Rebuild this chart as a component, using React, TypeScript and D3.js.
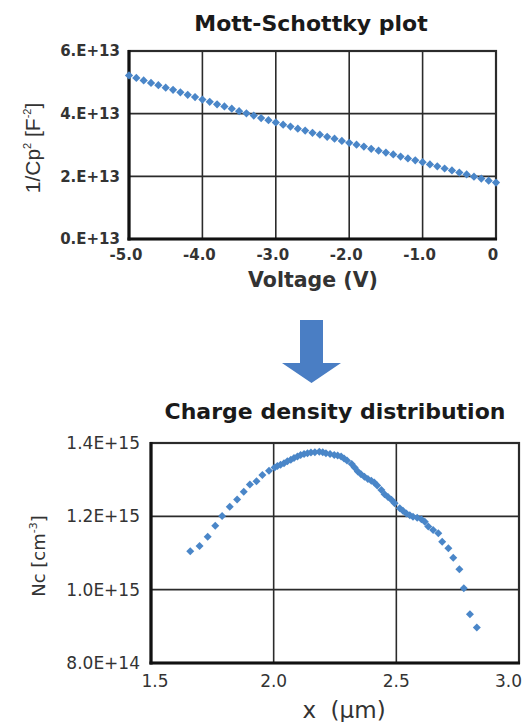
import React from 'react';
import * as d3 from 'd3';

// Mott-Schottky data: voltage (V) vs 1/Cp^2 (F^-2)
const msVoltage = [
  -5.0, -4.9, -4.8, -4.7, -4.6, -4.5, -4.4, -4.3, -4.2, -4.1,
  -4.0, -3.9, -3.8, -3.7, -3.6, -3.5, -3.4, -3.3, -3.2, -3.1,
  -3.0, -2.9, -2.8, -2.7, -2.6, -2.5, -2.4, -2.3, -2.2, -2.1,
  -2.0, -1.9, -1.8, -1.7, -1.6, -1.5, -1.4, -1.3, -1.2, -1.1,
  -1.0, -0.9, -0.8, -0.7, -0.6, -0.5, -0.4, -0.3, -0.2, -0.1, 0.0,
];
const msInvCp2 = [
  5.22e13, 5.14e13, 5.06e13, 4.98e13, 4.91e13, 4.83e13, 4.76e13, 4.68e13, 4.60e13, 4.53e13,
  4.45e13, 4.38e13, 4.30e13, 4.23e13, 4.16e13, 4.08e13, 4.01e13, 3.94e13, 3.86e13, 3.79e13,
  3.72e13, 3.65e13, 3.59e13, 3.52e13, 3.46e13, 3.39e13, 3.33e13, 3.26e13, 3.20e13, 3.13e13,
  3.07e13, 3.01e13, 2.95e13, 2.88e13, 2.82e13, 2.76e13, 2.70e13, 2.63e13, 2.57e13, 2.51e13,
  2.45e13, 2.38e13, 2.32e13, 2.25e13, 2.19e13, 2.12e13, 2.06e13, 1.99e13, 1.93e13, 1.86e13, 1.80e13,
];
const msXTicks = [-5, -4, -3, -2, -1, 0];
const msXLabels = ['-5.0', '-4.0', '-3.0', '-2.0', '-1.0', '0'];
const msYTicks = [0, 2e13, 4e13, 6e13];
const msYLabels = ['0.E+13', '2.E+13', '4.E+13', '6.E+13'];

// Charge density data: depth x (um) vs Nc (cm^-3)
const ncDepth = [
  1.660, 1.698, 1.731, 1.762, 1.790, 1.821, 1.851, 1.878, 1.903, 1.930,
  1.954, 1.981, 2.004, 2.015, 2.028, 2.042, 2.056, 2.070, 2.083, 2.097,
  2.110, 2.124, 2.138, 2.152, 2.168, 2.186, 2.200, 2.213, 2.230, 2.247,
  2.261, 2.275, 2.287, 2.299, 2.318, 2.330, 2.343, 2.356, 2.370, 2.384,
  2.398, 2.410, 2.422, 2.439, 2.452, 2.466, 2.480, 2.493, 2.514, 2.527,
  2.541, 2.555, 2.568, 2.585, 2.602, 2.616, 2.630, 2.650, 2.671, 2.687,
  2.712, 2.732, 2.757, 2.775, 2.800, 2.828,
];
const ncValue = [
  1.105e15, 1.119e15, 1.144e15, 1.174e15, 1.201e15, 1.226e15, 1.246e15, 1.267e15, 1.287e15, 1.296e15,
  1.313e15, 1.324e15, 1.333e15, 1.337e15, 1.341e15, 1.345e15, 1.350e15, 1.354e15, 1.359e15, 1.363e15,
  1.367e15, 1.370e15, 1.372e15, 1.374e15, 1.375e15, 1.376e15, 1.375e15, 1.372e15, 1.370e15, 1.367e15,
  1.366e15, 1.363e15, 1.358e15, 1.352e15, 1.343e15, 1.333e15, 1.322e15, 1.315e15, 1.308e15, 1.302e15,
  1.297e15, 1.292e15, 1.284e15, 1.272e15, 1.260e15, 1.253e15, 1.245e15, 1.236e15, 1.222e15, 1.215e15,
  1.208e15, 1.203e15, 1.199e15, 1.196e15, 1.192e15, 1.185e15, 1.172e15, 1.163e15, 1.154e15, 1.131e15,
  1.113e15, 1.087e15, 1.056e15, 1.004e15, 0.933e15, 0.897e15,
];
const ncXTicks = [1.5, 2.0, 2.5, 3.0];
const ncXLabels = ['1.5', '2.0', '2.5', '3.0'];
const ncYTicks = [0.8e15, 1.0e15, 1.2e15, 1.4e15];
const ncYLabels = ['8.0E+14', '1.0E+15', '1.2E+15', '1.4E+15'];

const BLUE = '#4a86c8';
const INK = '#2b2b2b';
const FONT = "'DejaVu Sans', sans-serif";

export default function App() {
  const W = 523;
  const H = 722;

  // top chart scales
  const x1 = d3.scaleLinear().domain([-5, 0]).range([129, 496]);
  const y1 = d3.scaleLinear().domain([0, 6e13]).range([239, 51]);
  // bottom chart scales
  const x2 = d3.scaleLinear().domain([1.5, 3.0]).range([151, 519]);
  const y2 = d3.scaleLinear().domain([0.8e15, 1.4e15]).range([663, 443]);

  const marker1 = d3.symbol(d3.symbolSquare, 34)();
  const marker2 = d3.symbol(d3.symbolSquare, 32)();

  const frame = (x: d3.ScaleLinear<number, number>, y: d3.ScaleLinear<number, number>, xt: number[], yt: number[]) => {
    const [xl, xr] = x.range();
    const [yb, yt0] = y.range();
    return (
      <g>
        {xt.map((t, i) => (
          <line key={'gx' + i} x1={x(t)} x2={x(t)} y1={yt0} y2={yb} stroke={INK} strokeWidth={1.6} />
        ))}
        {yt.map((t, i) => (
          <line key={'gy' + i} x1={xl} x2={xr} y1={y(t)} y2={y(t)} stroke={INK} strokeWidth={1.6} />
        ))}
        <rect x={xl} y={yt0} width={xr - xl} height={yb - yt0} fill="none" stroke={INK} strokeWidth={2.2} />
        <line x1={xl} x2={xl} y1={yt0 - 1} y2={yb + 1.5} stroke="#111" strokeWidth={3.2} />
        <line x1={xl - 1.5} x2={xr + 1} y1={yb} y2={yb} stroke="#111" strokeWidth={3.2} />
      </g>
    );
  };

  return (
    <svg width={W} height={H} style={{ position: 'absolute', left: 0, top: 0, background: '#fff' }}
      fontFamily={FONT}>
      <rect width={W} height={H} fill="#fff" />

      {/* ---------- Mott-Schottky plot ---------- */}
      <text x={311} y={31} textAnchor="middle" fontSize={22} fontWeight="bold" fill="#1a1a1a">
        Mott-Schottky plot
      </text>
      {frame(x1, y1, msXTicks, msYTicks)}
      {msYTicks.map((t, i) => (
        <text key={'my' + i} x={120} y={y1(t)} dy="0.36em" textAnchor="end" fontSize={15}
          fontWeight="bold" fill="#333">{msYLabels[i]}</text>
      ))}
      {msXTicks.map((t, i) => (
        <text key={'mx' + i} x={x1(t) - 3} y={260} textAnchor="middle" fontSize={15}
          fontWeight="bold" fill="#333">{msXLabels[i]}</text>
      ))}
      <text x={313} y={287} textAnchor="middle" fontSize={20.5} fontWeight="bold" fill="#333">
        Voltage (V)
      </text>
      <text transform={`translate(40,148) rotate(-90)`} textAnchor="middle" fontSize={21}
        fill="#333" fontFamily="'Liberation Sans Narrow', 'Liberation Sans', sans-serif">
        1/Cp<tspan fontSize={11} dy={-9}>2</tspan><tspan dy={9}> [F</tspan>
        <tspan fontSize={11} dy={-9}>-2</tspan><tspan dy={9}>]</tspan>
      </text>
      <g fill={BLUE}>
        {msVoltage.map((v, i) => (
          <path key={'mp' + i} d={marker1 || ''}
            transform={`translate(${x1(v)},${y1(msInvCp2[i])}) rotate(45)`} />
        ))}
      </g>

      {/* ---------- arrow ---------- */}
      <path d="M300,320 L323,320 L323,363 L341,363 L311.5,383 L282,363 L300,363 Z" fill="#4a7ec4" />

      {/* ---------- Charge density distribution ---------- */}
      <text x={335} y={419} textAnchor="middle" fontSize={22} fontWeight="bold" fill="#1a1a1a">
        Charge density distribution
      </text>
      {frame(x2, y2, ncXTicks, ncYTicks)}
      {ncYTicks.map((t, i) => (
        <text key={'ny' + i} x={140} y={y2(t)} dy="0.36em" textAnchor="end" fontSize={17}
          fill="#333">{ncYLabels[i]}</text>
      ))}
      {ncXTicks.map((t, i) => {
        const last = i === ncXTicks.length - 1;
        const first = i === 0;
        return (
          <text key={'nx' + i} x={last ? 522 : x2(t) + (first ? 4 : 0)} y={687}
            textAnchor={last ? 'end' : 'middle'} fontSize={17} fill="#333">{ncXLabels[i]}</text>
        );
      })}
      <text x={344} y={718} textAnchor="middle" fontSize={23} fill="#333" style={{ whiteSpace: 'pre' }}>
        {'x  (μm)'}
      </text>
      <text transform={`translate(45,556) rotate(-90)`} textAnchor="middle" fontSize={18} fill="#333">
        Nc [cm<tspan fontSize={11} dy={-8}>-3</tspan><tspan dy={8}>]</tspan>
      </text>
      <g fill={BLUE}>
        {ncDepth.map((v, i) => (
          <path key={'np' + i} d={marker2 || ''}
            transform={`translate(${x2(v)},${y2(ncValue[i])}) rotate(45)`} />
        ))}
      </g>
    </svg>
  );
}
